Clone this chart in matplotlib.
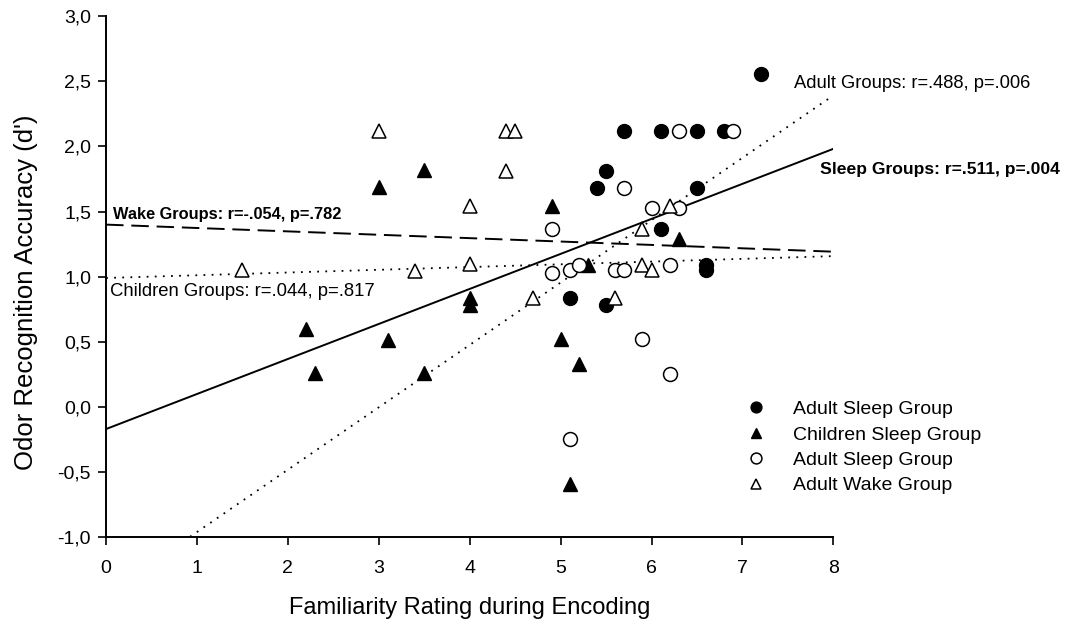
import numpy as np
import matplotlib.pyplot as plt

plt.rcParams['font.family'] = ['Liberation Sans', 'DejaVu Sans']

# Adult Sleep Group (filled circles)
adult_sleep_x = [7.2, 5.7, 6.1, 6.5, 6.8, 5.5, 5.4, 6.5, 6.1, 6.6, 6.6, 5.1, 5.5]
adult_sleep_y = [2.56, 2.12, 2.12, 2.12, 2.12, 1.81, 1.68, 1.68, 1.37, 1.09, 1.05, 0.84, 0.78]

# Children Sleep Group (filled triangles)
child_sleep_x = [2.2, 2.3, 3.0, 3.5, 3.1, 3.5, 4.0, 4.0, 4.9, 5.3, 6.3, 5.0, 5.2, 5.1]
child_sleep_y = [0.60, 0.26, 1.69, 1.82, 0.51, 0.26, 0.84, 0.78, 1.54, 1.09, 1.29, 0.52, 0.33, -0.59]

# open circles (labelled "Adult Sleep Group" in the original legend)
adult_wake_x = [4.9, 5.7, 6.0, 6.3, 6.3, 6.9, 4.9, 5.1, 5.2, 5.6, 5.7, 6.2, 5.9, 6.2, 5.1]
adult_wake_y = [1.37, 1.68, 1.53, 1.53, 2.12, 2.12, 1.03, 1.05, 1.09, 1.05, 1.05, 1.09, 0.52, 0.25, -0.25]

# open triangles
wake_tri_x = [3.0, 4.4, 4.5, 4.4, 4.0, 4.0, 1.5, 3.4, 4.7, 5.6, 5.9, 6.2, 5.9, 6.0]
wake_tri_y = [2.12, 2.12, 2.12, 1.81, 1.54, 1.10, 1.05, 1.04, 0.84, 0.84, 1.37, 1.54, 1.09, 1.05]

# regression lines: intercept, slope
fit_names = ['Sleep', 'Wake', 'Children', 'Adult']
fit_b0 = [-0.17, 1.40, 0.99, -1.44]
fit_b1 = [0.269, -0.026, 0.021, 0.479]

fig = plt.figure(figsize=(10.68, 6.26), dpi=100)
ax = fig.add_axes([0.0993, 0.142, 0.681, 0.832])

xx = np.linspace(0, 8, 200)
ax.plot(xx, fit_b0[0] + fit_b1[0] * xx, color='black', lw=1.4)
ax.plot(xx, fit_b0[1] + fit_b1[1] * xx, color='black', lw=1.4, dashes=(9, 4))
ax.plot(xx, fit_b0[2] + fit_b1[2] * xx, color='black', lw=1.3, ls=(0, (1, 3.5)))
ya = fit_b0[3] + fit_b1[3] * xx
ax.plot(xx[ya >= -1], ya[ya >= -1], color='black', lw=1.3, ls=(0, (1, 3.5)))

ms = 10
ax.plot(adult_sleep_x, adult_sleep_y, 'o', ms=ms, color='black', label='Adult Sleep Group')
ax.plot(child_sleep_x, child_sleep_y, '^', ms=ms, color='black', label='Children Sleep Group')
ax.plot(adult_wake_x, adult_wake_y, 'o', ms=ms, mfc='white', mec='black', mew=1.1,
        label='Adult Sleep Group')
ax.plot(wake_tri_x, wake_tri_y, '^', ms=ms, mfc='white', mec='black', mew=1.1,
        label='Adult Wake Group')

ax.text(0.08, 1.48, 'Wake Groups: r=-.054, p=.782', fontsize=11.8, fontweight='bold', va='center')
ax.text(0.04, 0.89, 'Children Groups: r=.044, p=.817', fontsize=13.3, va='center')
ax.text(7.57, 2.48, 'Adult Groups: r=.488, p=.006', fontsize=13.2, va='center', clip_on=False)
ax.text(7.85, 1.82, 'Sleep Groups: r=.511, p=.004', fontsize=12.6, fontweight='bold',
        va='center', clip_on=False)

ax.set_xlim(0, 8)
ax.set_ylim(-1, 3)
ax.set_xticks(range(0, 9))
yt = np.arange(-1.0, 3.01, 0.5)
ax.set_yticks(yt)
ax.set_yticklabels([f'{v:.1f}'.replace('.', ',') for v in yt])
ax.tick_params(labelsize=14, direction='out', length=5.8, width=1.2)
ax.tick_params(axis='x', pad=11)
ax.tick_params(axis='y', pad=5)
for s in ['top', 'right']:
    ax.spines[s].set_visible(False)
for s in ['left', 'bottom']:
    ax.spines[s].set_linewidth(1.4)

ax.set_xlabel('Familiarity Rating during Encoding', fontsize=17, labelpad=14)
ax.set_ylabel('Odor Recognition Accuracy (d\u02b9)', fontsize=18.5)
ax.yaxis.set_label_coords(-0.094, 0.47)

ax.legend(loc='lower right', bbox_to_anchor=(1.214, 0.067), frameon=False, fontsize=14,
          markerscale=0.78, handlelength=1.2, handletextpad=1.3, labelspacing=0.4,
          borderaxespad=0)

fig.savefig('out.png', dpi=100)
